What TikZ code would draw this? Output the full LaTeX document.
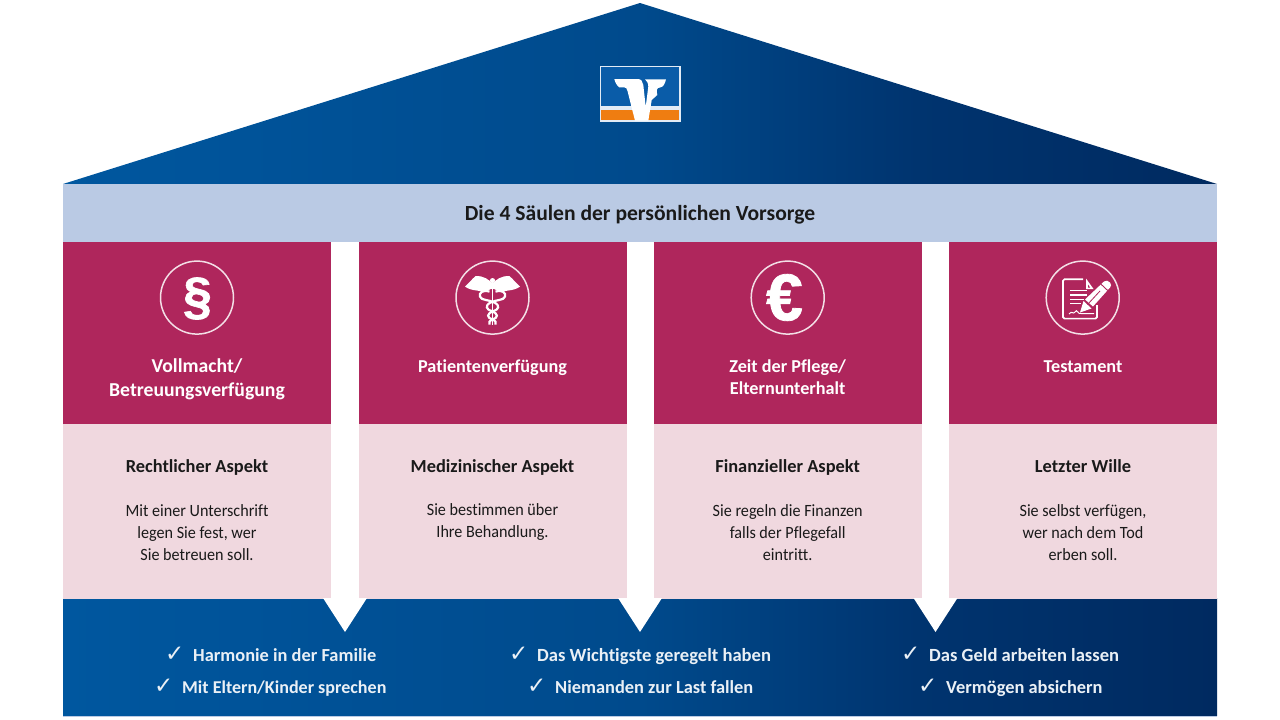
\documentclass[tikz,border=0pt]{standalone}
\usepackage{fontspec}
\setmainfont{Carlito}[Ligatures=NoCommon]
\newfontfamily\bodyfont{Carlito}[FakeStretch=0.94,Ligatures=NoCommon]
\newfontfamily\symfont{Liberation Sans}[FakeBold=1.2]
\newfontfamily\chkfont{DejaVu Sans}
\definecolor{magentaVR}{HTML}{AF265C}
\definecolor{pinkVR}{HTML}{F0D8DF}
\definecolor{bandVR}{HTML}{BACAE4}
\definecolor{textVR}{HTML}{1A1A1A}
\definecolor{lightVR}{HTML}{EAF0F6}
\definecolor{circVR}{HTML}{F3DFE6}
\definecolor{logoblue}{HTML}{0A5CA8}
\definecolor{logoorange}{HTML}{EF7D11}
\definecolor{bA}{HTML}{00579F}
\definecolor{bB}{HTML}{004A8C}
\definecolor{bC}{HTML}{00346F}
\definecolor{bD}{HTML}{002A60}
\pgfdeclarehorizontalshading{vrblue}{100bp}{color(0bp)=(bA); color(25bp)=(bA); color(50bp)=(bB); color(62bp)=(bC); color(75bp)=(bD); color(100bp)=(bD)}
\tikzset{
  x=1pt,y=-1pt,
  lab/.style={font=\bfseries\fontsize{18.2}{22}\selectfont,text=white,inner sep=0pt,align=center},
  laba/.style={font=\bfseries\fontsize{19.7}{24}\selectfont,text=white,inner sep=0pt,align=center},
  head/.style={font=\bfseries\fontsize{18.4}{22}\selectfont,text=textVR,inner sep=0pt,anchor=base},
  body/.style={font=\bodyfont\fontsize{17.2}{22}\selectfont,text=textVR,inner sep=0pt,align=center},
  item/.style={font=\bfseries\fontsize{18.4}{22}\selectfont,text=lightVR,inner sep=0pt,anchor=base west},
  chk/.style={font=\chkfont\fontsize{23}{24}\selectfont,text=lightVR,inner sep=0pt,anchor=base west},
  ring/.style={circle,draw=circVR,line width=1.5pt,minimum size=73pt,inner sep=0pt,text=white},
  pil/.style={fill=magentaVR},
  low/.style={fill=pinkVR}
}
\begin{document}
\begin{tikzpicture}
\useasboundingbox (0,0) rectangle (1280,720);
% roof and base
\path[shading=vrblue] (63,184) -- (640,3) -- (1217,184) -- cycle;
\path[shading=vrblue] (63,598) rectangle (1217,715.5);
\fill[bandVR] (63,184) rectangle (1217,241.5);
\draw[bandVR,line width=.8pt] (63,716) -- (1217,716);
% pillars
\foreach \xa/\xb in {63/331,358.5/626.5,654/921.5,949/1217}{
  \fill[pil] (\xa,241.5) rectangle (\xb,424);
  \fill[low] (\xa,424) rectangle (\xb,598.5);
}
% arrows
\fill[white] (323,598) -- (367,598) -- (345,632) -- cycle;
\fill[white] (331,590) rectangle (358.5,599);
\fill[white] (618,598) -- (662,598) -- (640,632) -- cycle;
\fill[white] (626.5,590) rectangle (654,599);
\fill[white] (913.5,598) -- (957.5,598) -- (935.5,632) -- cycle;
\fill[white] (921.5,590) rectangle (949,599);
% logo
\fill[white!88!logoblue] (599.5,65.5) rectangle (680.5,121.5);
\fill[logoblue] (601,67) rectangle (679,106);
\fill[logoorange] (601,110) rectangle (679,120);
\fill[white] (614.3,79) -- (638.3,79) .. controls (641,79) and (643,82) .. (643.3,85)
  -- (645.7,106.7) -- (648.3,86.7) .. controls (648.3,83) and (647,81) .. (645,79.3)
  -- (666,79.3) .. controls (665,84) and (663,87.3) .. (660,87.5)
  .. controls (657,87.5) and (656,90) .. (657.3,95) -- (651.7,100) -- (648.3,120.7) -- (635,120.7)
  -- (627.5,91) .. controls (627,88.5) and (626,87.3) .. (624,87.3) -- (619.3,87.3) .. controls (617,86) and (615,82) .. (614.3,79) -- cycle;
% title
\node[font=\bfseries\fontsize{21.6}{24}\selectfont,text=textVR,inner sep=0pt,anchor=base] (title) at (640,220) {Die 4 Säulen der persönlichen Vorsorge};
% icons
\node[ring] (ia) at (197,297.6) {};
\node[font=\symfont\bfseries\fontsize{52}{52}\selectfont,text=white,inner sep=0pt] (sa) at (197.5,298.5) {§};
\node[ring] (ib) at (492.5,297.6) {};
\node[ring] (ic) at (787.7,297.6) {};
\node[font=\symfont\bfseries\fontsize{66}{66}\selectfont,text=white,inner sep=0pt] (sc) at (784.5,297.5) {€};
\node[ring] (id) at (1082.7,297.6) {};
% caduceus
\begin{scope}[shift={(492.5,297.6)}]
  \fill[white] (0,-13.5) .. controls (-3,-18) and (-9,-22) .. (-17,-21.5)
     .. controls (-21,-18) and (-24,-14) .. (-27.5,-11)
     .. controls (-24,-8.5) and (-20,-7.5) .. (-15,-7)
     .. controls (-12,-6) and (-9,-5.5) .. (-6,-6.5)
     .. controls (-3,-8) and (-1,-9) .. (0,-9) -- cycle;
  \fill[white] (0,-13.5) .. controls (3,-18) and (9,-22) .. (17,-21.5)
     .. controls (21,-18) and (24,-14) .. (27.5,-11)
     .. controls (24,-8.5) and (20,-7.5) .. (15,-7)
     .. controls (12,-6) and (9,-5.5) .. (6,-6.5)
     .. controls (3,-8) and (1,-9) .. (0,-9) -- cycle;
  \fill[white] (0,-17) circle (2.6);
  \draw[white,line width=1.8pt] (0,-16) -- (0,27);
  \draw[white,line width=2.2pt] (-3,-6) .. controls (-10,-8) and (-13.5,-5) .. (-12.5,-1)
     .. controls (-11.5,3) and (-3,2) .. (2,5) .. controls (8,8) and (6,12) .. (1,13.5)
     .. controls (-6,16) and (-6,20) .. (0,22) .. controls (3,23) and (4,25) .. (3,27);
  \draw[white,line width=2.2pt] (3,-6) .. controls (10,-8) and (13.5,-5) .. (12.5,-1)
     .. controls (11.5,3) and (3,2) .. (-2,5) .. controls (-8,8) and (-6,12) .. (-1,13.5)
     .. controls (6,16) and (6,20) .. (0,22) .. controls (-3,23) and (-4,25) .. (-3,27);
\end{scope}
% document and pencil
\draw[white,line width=1.7pt,rounded corners=1.5pt] (1083,279.2) -- (1063,279.2) -- (1063,318.6) -- (1097,318.6) -- (1097,305);
\draw[white,line width=1.2pt] (1097,293) -- (1097,297);
\fill[white] (1086,278.5) -- (1093.5,289) -- (1086,289) -- cycle;
\fill[magentaVR] (1088,284.5) -- (1090,287.5) -- (1088,287.5) -- cycle;
\foreach \yy/\xe in {290.7/1087,295/1087,299.3/1084,303.3/1081}{
  \draw[white,line width=1.2pt] (1070,\yy) -- (\xe,\yy);
}
\draw[white,line width=1pt] (1069,314) .. controls (1072,310) and (1073,315) .. (1075,312) .. controls (1077,308) and (1078,315) .. (1081,313.5) -- (1094,313.5);
\fill[white] (1080,312.5) -- (1083.5,301) -- (1091.5,308.5) -- cycle;
\fill[white] (1085,299.5) -- (1104,281.5) .. controls (1106,280) and (1108,280.5) .. (1110,282.5)
   .. controls (1111.5,284.5) and (1111.5,286) .. (1110,287.5) -- (1093,306.5) -- cycle;
\draw[magentaVR,line width=.9pt] (1101,284.2) -- (1107.8,290.6);
\draw[magentaVR,line width=.8pt] (1087.5,304.5) -- (1100,291);
% upper labels
\node[laba] (la) at (197,379) {Vollmacht/\\Betreuungsverfügung};
\node[lab,anchor=base] (lb) at (492.5,372) {Patientenverfügung};
\node[lab] (lc) at (787.7,377) {Zeit der Pflege/\\Elternunterhalt};
\node[lab,anchor=base] (ld) at (1083,372) {Testament};
% lower text
\node[head] (ha) at (197,472.5) {Rechtlicher Aspekt};
\node[head] (hb) at (492.5,472.5) {Medizinischer Aspekt};
\node[head] (hc) at (787.7,472.5) {Finanzieller Aspekt};
\node[head] (hd) at (1083,472.5) {Letzter Wille};
\node[body] (ba) at (197,533) {Mit einer Unterschrift\\legen Sie fest, wer\\Sie betreuen soll.};
\node[body] (bb) at (492.5,522.5) {Sie bestimmen über\\Ihre Behandlung.};
\node[body] (bc) at (787.7,533) {Sie regeln die Finanzen\\falls der Pflegefall\\eintritt.};
\node[body] (bd) at (1083,533) {Sie selbst verfügen,\\wer nach dem Tod\\erben soll.};
% bottom lists
\node[chk] (c1) at (165,661.5) {✓};
\node[item] (t1) at (193,661.5) {Harmonie in der Familie};
\node[chk] (c2) at (154,693.5) {✓};
\node[item,font=\bfseries\fontsize{18.05}{22}\selectfont] (t2) at (182,693.5) {Mit Eltern/Kinder sprechen};
\node[chk] (c3) at (509,661.5) {✓};
\node[item,font=\bfseries\fontsize{18.6}{22}\selectfont] (t3) at (537,661.5) {Das Wichtigste geregelt haben};
\node[chk] (c4) at (527,693.5) {✓};
\node[item] (t4) at (555,693.5) {Niemanden zur Last fallen};
\node[chk] (c5) at (901,661.5) {✓};
\node[item,font=\bfseries\fontsize{18.6}{22}\selectfont] (t5) at (929,661.5) {Das Geld arbeiten lassen};
\node[chk] (c6) at (918,693.5) {✓};
\node[item] (t6) at (946,693.5) {Vermögen absichern};
\end{tikzpicture}
\end{document}
